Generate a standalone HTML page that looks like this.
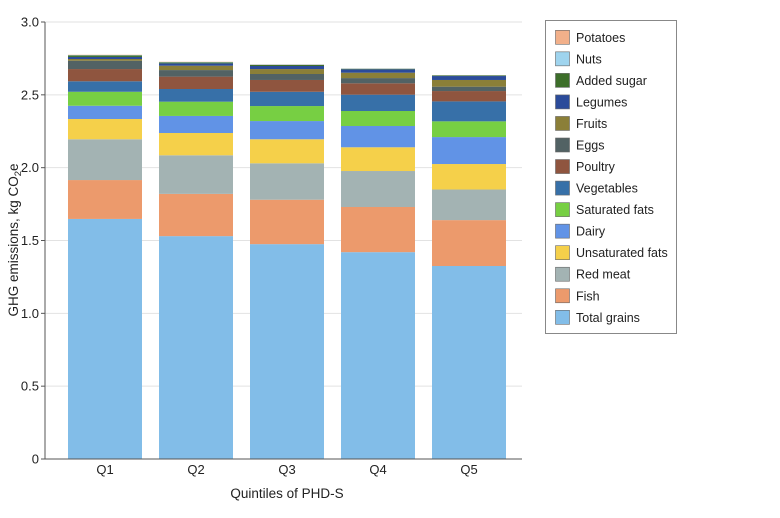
<!DOCTYPE html>
<html><head><meta charset="utf-8"><style>
html,body{margin:0;padding:0;background:#fff;}
svg text{font-family:"Liberation Sans",sans-serif;fill:#222;}
</style></head><body>
<svg id="chart" width="780" height="513" viewBox="0 0 780 513" xmlns="http://www.w3.org/2000/svg">
<g id="grid"></g><g id="bars"></g><g id="axes"></g><g id="legend"></g>
<text x="287" y="498" font-size="13.5" text-anchor="middle">Quintiles of PHD-S</text>
<text transform="translate(18,240) rotate(-90)" font-size="13.5" text-anchor="middle">GHG emissions, kg CO<tspan font-size="9.5" baseline-shift="-30%">2</tspan>e</text>
</svg>
<script>
const categories=["Q1","Q2","Q3","Q4","Q5"];
const seriesNames=["Total grains","Fish","Red meat","Unsaturated fats","Dairy","Saturated fats","Vegetables","Poultry","Eggs","Fruits","Legumes","Added sugar","Nuts","Potatoes"];
const seriesColors=["#82bde8","#ec9a6c","#a3b3b3","#f5d04a","#6193e6","#77cf43","#3770a8","#8f553f","#526264","#8b7f38","#2b4b9a","#3d6e2a","#9fd4ee","#f2b08a"];
const totalGrains=[1.648,1.53,1.475,1.42,1.325];
const fish=[0.267,0.29,0.305,0.31,0.315];
const redMeat=[0.28,0.265,0.25,0.247,0.21];
const unsatFats=[0.139,0.153,0.165,0.163,0.175];
const dairy=[0.091,0.117,0.125,0.146,0.185];
const satFats=[0.096,0.098,0.103,0.103,0.108];
const vegetables=[0.072,0.087,0.098,0.112,0.137];
const poultry=[0.084,0.085,0.081,0.078,0.071];
const eggs=[0.057,0.045,0.041,0.036,0.03];
const fruits=[0.012,0.03,0.034,0.037,0.046];
const legumes=[0.014,0.016,0.021,0.023,0.027];
const addedSugar=[0.011,0.007,0.007,0.004,0.004];
const nuts=[0.002,0.002,0.003,0.002,0.002];
const potatoes=[0.002,0.002,0.002,0.001,0.001];
const yTicks=[0,0.5,1.0,1.5,2.0,2.5,3.0];
const yTickLabels=["0","0.5","1.0","1.5","2.0","2.5","3.0"];

const series=[totalGrains,fish,redMeat,unsatFats,dairy,satFats,vegetables,poultry,eggs,fruits,legumes,addedSugar,nuts,potatoes];
const NS="http://www.w3.org/2000/svg";
const x0=45,x1=522,yBase=459,yTopPx=22,yMax=3;
function yScale(v){return yBase-(yBase-yTopPx)*v/yMax;}
function xCenter(i){return 105+91*i;}
const barW=74;
function mk(tag,attrs,parent){const e=document.createElementNS(NS,tag);for(const k in attrs)e.setAttribute(k,attrs[k]);parent.appendChild(e);return e;}
const grid=document.getElementById('grid'),bars=document.getElementById('bars'),axes=document.getElementById('axes'),legend=document.getElementById('legend');
yTicks.forEach((t,i)=>{
  const y=yScale(t);
  if(t>0){const g=mk('line',{x1:x0,x2:x1,y1:y,y2:y,stroke:'#e2e2e2','stroke-width':1},grid);
  
  }
  const tk=mk('line',{x1:x0-4,x2:x0,y1:y,y2:y,stroke:'#555'},axes);
  
  
  const lb=mk('text',{x:x0-6,y:y+4.5,'font-size':13,'text-anchor':'end'},axes);
  lb.textContent=yTickLabels[i];
  
  
});
const ya=mk('line',{x1:x0,x2:x0,y1:yTopPx,y2:yBase,stroke:'#555'},axes);


const xa=mk('line',{x1:x0,x2:x1,y1:yBase,y2:yBase,stroke:'#555'},axes);


categories.forEach((c,i)=>{
  let cum=0;
  series.forEach((s,j)=>{
    const v=s[i];const yt=yScale(cum+v),yb=yScale(cum);cum+=v;
    const r=mk('rect',{x:xCenter(i)-barW/2,y:yt,width:barW,height:Math.max(yb-yt,0),fill:seriesColors[j]},bars);
    
    
  });
  const t=mk('text',{x:xCenter(i),y:474,'font-size':13,'text-anchor':'middle'},axes);
  t.textContent=c;
  
  
});
const lb=mk('rect',{x:545.5,y:20.5,width:131,height:313,fill:'#fff',stroke:'#888'},legend);


for(let k=0;k<seriesNames.length;k++){
  const j=seriesNames.length-1-k;const cy=37.3+k*21.54;
  const g=mk('g',{},legend);
  
  
  mk('rect',{x:555.5,y:cy-7,width:14,height:14,fill:seriesColors[j],stroke:'#666','stroke-width':0.6},g);
  const t=mk('text',{x:576,y:cy+4.5,'font-size':12.5},g);
  t.textContent=seriesNames[j];
}
</script>
</body></html>
